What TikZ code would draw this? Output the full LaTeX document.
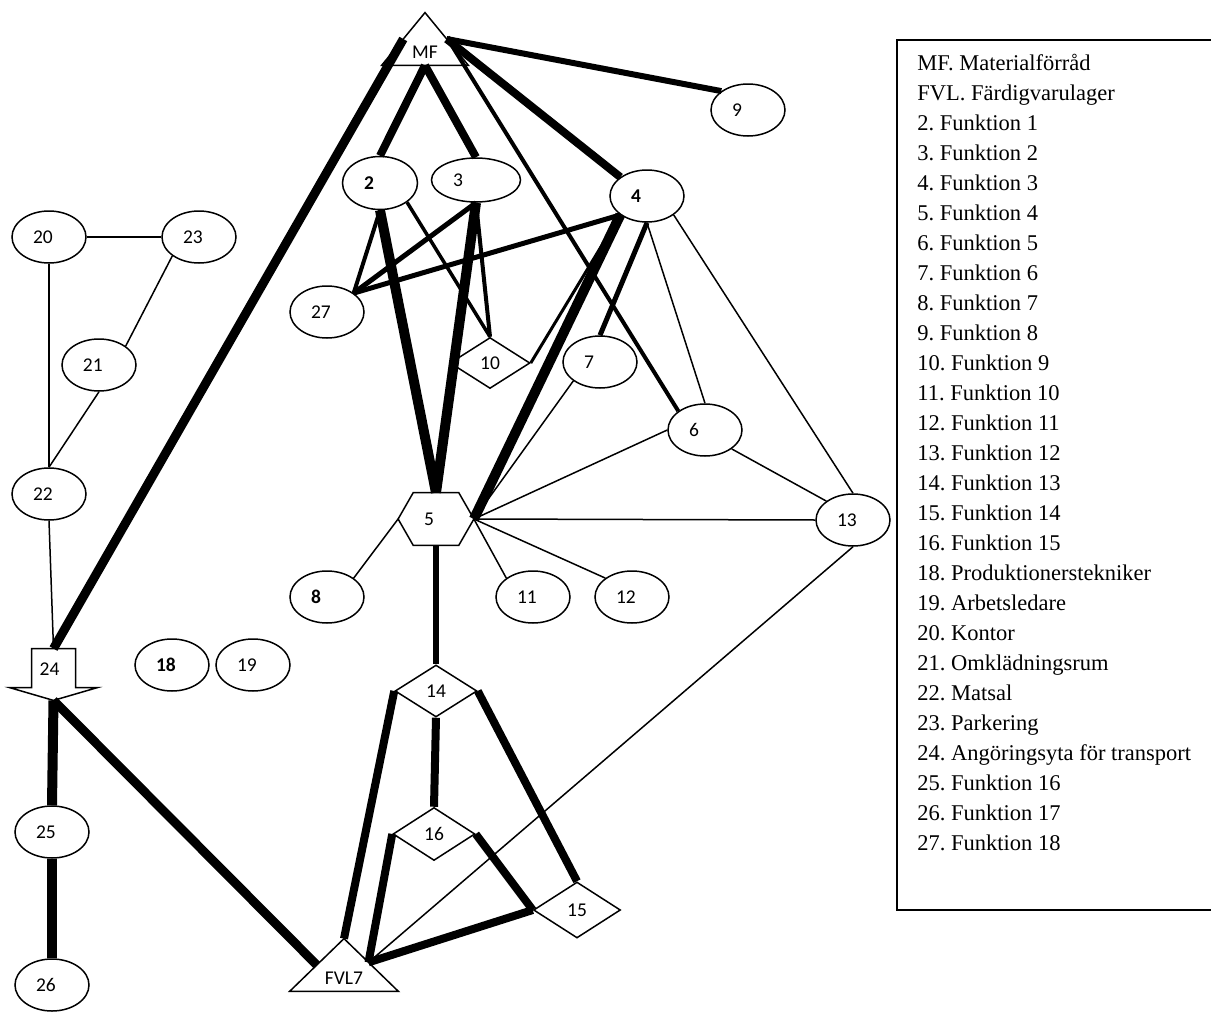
\documentclass[tikz,border=0pt]{standalone}
\usepackage{fontspec}
\setmainfont{Liberation Serif}
\newfontfamily\calibrifont{Carlito}
\usepackage{tikz}
\usetikzlibrary{shapes.geometric,calc}
\newcommand{\nodefont}{\calibrifont\fontsize{9.75}{11}\selectfont}
\newcommand{\legendfont}{\rmfamily\fontsize{11.25}{15}\selectfont\frenchspacing}
\tikzset{
  % function node: ellipse, label set to the left
  fnode/.style={ellipse, draw, line width=0.75pt, fill=white, minimum width=37pt, minimum height=26pt,
                inner sep=0pt, text width=16pt, align=left, font=\nodefont},
  % diamond node
  dnode/.style={diamond, draw, line width=0.75pt, fill=white, minimum width=41pt, minimum height=26pt,
                inner sep=0pt, font=\nodefont},
  % invisible frame for hand drawn shapes
  framenode/.style={rectangle, inner sep=0pt, font=\nodefont},
  % outline of hand drawn shapes
  outline/.style={draw, line width=0.75pt},
  % connection with given width
  link/.style={line width=#1},
  link/.default={0.75pt},
  % legend line
  legtext/.style={anchor=base west, inner sep=0pt, font=\legendfont},
}

\begin{document}
\begin{tikzpicture}[x=0.5pt,y=-0.5pt]
  \useasboundingbox (0,0) rectangle (1211,1012);

  % material store (triangle)
  \node[framenode, minimum width=43pt, minimum height=26pt] (MF) at (425,39) {};
  \draw[outline] (MF.north) -- (MF.south east) -- (MF.south west) -- cycle;
  \node[font=\nodefont] (MFtxt) at ($(MF.south)+(0,-13)$) {MF};

  % functions, upper part
  \node[fnode] (f9) at (748,110) {9};
  \node[fnode, minimum width=37.5pt, minimum height=26.5pt] (f2) at (380,183) {\textbf{2}};
  \node[fnode, minimum width=44.5pt, minimum height=22pt, text width=23pt] (f3) at (476,180) {3};
  \node[fnode] (f4) at (647,196) {\textbf{4}};
  \node[fnode] (f27) at (327,312) {27};
  \node[dnode, minimum width=40pt, minimum height=25.5pt] (f10) at (490,363) {10};
  \node[fnode] (f7) at (600,362) {7};
  \node[fnode] (f6) at (705,430) {6};
  \node[fnode] (f13) at (853,520) {13};

  % hexagon 5
  \node[framenode, minimum width=37.5pt, minimum height=26pt, text width=12pt, align=left] (f5) at (436,519) {5};
  \draw[outline] (f5.west) -- ($(f5.north west)!.2!(f5.north east)$) -- ($(f5.north west)!.8!(f5.north east)$)
    -- (f5.east) -- ($(f5.south west)!.8!(f5.south east)$) -- ($(f5.south west)!.2!(f5.south east)$) -- cycle;

  \node[fnode] (f8) at (327,597) {\textbf{8}};
  \node[fnode] (f11) at (533,597) {11};
  \node[fnode] (f12) at (632,597) {12};

  % lower part
  \node[dnode] (f14) at (436,691) {14};
  \node[dnode, minimum height=26.5pt] (f16) at (434,834) {16};
  \node[dnode, minimum width=43.5pt, minimum height=28pt] (f15) at (577,910) {15};

  % finished goods store (triangle)
  \node[framenode, minimum width=54pt, minimum height=26pt] (FVL) at (344,965) {};
  \draw[outline] (FVL.north) -- (FVL.south east) -- (FVL.south west) -- cycle;
  \node[font=\nodefont] (FVLtxt) at ($(FVL.south)+(0,-13)$) {FVL7};

  % left column
  \node[fnode] (f20) at (49,237) {20};
  \node[fnode] (f23) at (199,237) {23};
  \node[fnode] (f21) at (99,365) {21};
  \node[fnode] (f22) at (49,494) {22};
  \node[fnode] (f18) at (172,665) {\textbf{18}};
  \node[fnode] (f19) at (253,665) {19};
  \node[fnode] (f25) at (52,832) {25};
  \node[fnode] (f26) at (52,985) {26};

  % transport area (arrow)
  \node[framenode, minimum width=43.5pt, minimum height=25.5pt] (t24) at (53.5,674.5) {};
  \draw[outline] ($(t24.north)+(-22,0)$) -- ($(t24.north)+(22,0)$) -- ($(t24.north)+(22,39)$)
    -- ($(t24.north east)+(0,39)$) -- (t24.south) -- ($(t24.north west)+(0,39)$) -- ($(t24.north)+(-22,39)$) -- cycle;
  \node[font=\nodefont] (t24txt) at ($(t24.north)+(-4,21)$) {24};

  % points on the triangles
  \coordinate (MFl) at ($(MF.north)!.5!(MF.south west)$);
  \coordinate (MFr) at ($(MF.north)!.5!(MF.south east)$);
  \coordinate (MFr2) at ($(MF.north)!.6!(MF.south east)$);
  \coordinate (FVLl) at ($(FVL.north)!.5!(FVL.south west)$);
  \coordinate (FVLr) at ($(FVL.north)!.45!(FVL.south east)$);

  % links from MF
  \draw[link=4.5pt] (MFl) -- (t24.north);
  \draw[link=4pt] (MF.south) -- (f2.north);
  \draw[link=4pt] (MF.south) -- (f3.north);
  \draw[link=4pt] (MFr) -- (f4.north west);
  \draw[link=3pt] (MFr) -- (f9.north west);
  \draw[link=2pt] (MFr2) -- (f6.north west);

  % links around 2, 3, 4
  \draw[link=5pt] (f2.south) -- (f5.north);
  \draw[link=5pt] (f3.south) -- (f5.north);
  \draw[link=2pt] (f2.south) -- (f27.north east);
  \draw[link=2.5pt] (f3.south) -- (f27.north east);
  \draw[link=2.5pt] (f4.south west) -- (f27.north east);
  \draw[link=1.75pt] (f2.south east) -- (f10.north);
  \draw[link=2pt] (f3.south) -- (f10.north);
  \draw[link=1.5pt] (f4.south west) -- (f10.east);
  \draw[link=5pt] (f4.south west) -- (f5.east);
  \draw[link=2.5pt] (f4.south) -- (f7.north);
  \draw[link] (f4.south) -- (f6.north);
  \draw[link] (f4.south east) -- (f13.north);

  % links around 5
  \draw[link] (f5.east) -- (f7.south west);
  \draw[link] (f5.east) -- (f6.west);
  \draw[link] (f5.east) -- (f13.west);
  \draw[link] (f6.south east) -- (f13.north west);
  \draw[link] (f5.west) -- (f8.north east);
  \draw[link] (f5.east) -- (f11.north west);
  \draw[link] (f5.east) -- (f12.north west);
  \draw[link=2.75pt] (f5.south) -- (f14.north);

  % links to FVL
  \draw[link=4pt] (f14.west) -- (FVL.north);
  \draw[link=4pt] (f14.south) -- (f16.north);
  \draw[link=4pt] (f14.east) -- (f15.north);
  \draw[link=4pt] (f16.west) -- (FVLr);
  \draw[link=4pt] (f16.east) -- (f15.west);
  \draw[link=4pt] (f15.west) -- (FVLr);
  \draw[link] (f13.south) -- (FVLr);

  % left column links
  \draw[link=4.5pt] (t24.south) -- (FVLl);
  \draw[link=5pt] (t24.south) -- (f25.north);
  \draw[link=5pt] (f25.south) -- (f26.north);
  \draw[link] (f22.south) -- (t24.north);
  \draw[link] (f20.east) -- (f23.west);
  \draw[link] (f20.south) -- (f22.north);
  \draw[link] (f23.south west) -- (f21.north east);
  \draw[link] (f21.south) -- (f22.north);

  % legend
  \draw[line width=1pt] (897,40) rectangle (1230,910);
  \foreach \entry [count=\i from 0] in {MF. Materialförråd, FVL. Färdigvarulager, 2. Funktion 1, 3. Funktion 2,
      4. Funktion 3, 5. Funktion 4, 6. Funktion 5, 7. Funktion 6, 8. Funktion 7, 9. Funktion 8, 10. Funktion 9,
      11. Funktion 10, 12. Funktion 11, 13. Funktion 12, 14. Funktion 13, 15. Funktion 14, 16. Funktion 15,
      18. Produktionerstekniker, 19. Arbetsledare, 20. Kontor, 21. Omklädningsrum, 22. Matsal, 23. Parkering,
      24. Angöringsyta för transport, 25. Funktion 16, 26. Funktion 17, 27. Funktion 18}
    \node[legtext] (leg\i) at (917,{70+30*\i}) {\entry};
\end{tikzpicture}
\end{document}
